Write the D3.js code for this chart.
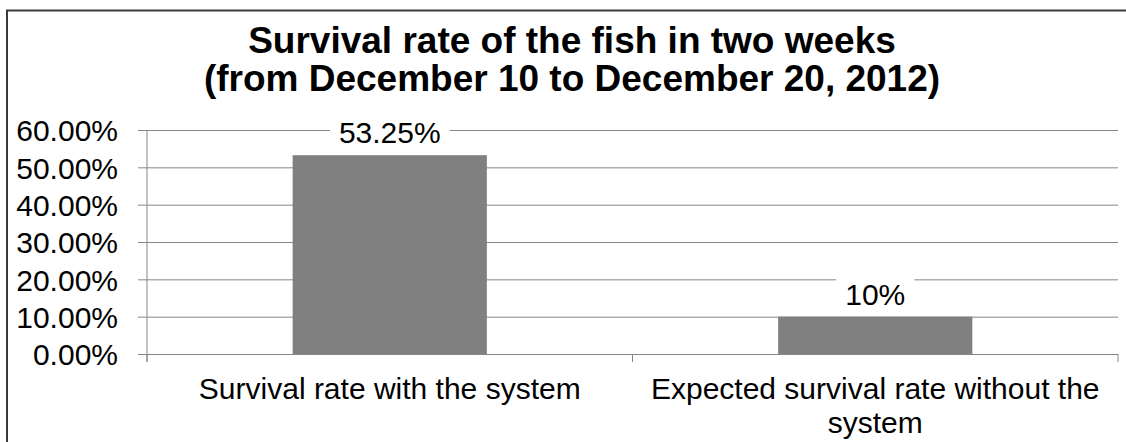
<!DOCTYPE html>
<html>
<head>
<meta charset="utf-8">
<script src="https://cdn.jsdelivr.net/npm/d3@7"></script>
<style>
  html, body { margin: 0; padding: 0; background: #fff; }
  svg { display: block; font-family: Arial, "Liberation Sans", sans-serif; }
</style>
</head>
<body>
<svg id="chart" width="1126" height="442"></svg>
<script>
// Survival rates (percent) per scenario
const categories = ["Survival rate with the system", "Expected survival rate without the system"];
const survival = [53.25, 10];
const yTicks = [0, 10, 20, 30, 40, 50, 60];
const titleLines = ["Survival rate of the fish in two weeks", "(from December 10 to December 20, 2012)"];

const W = 1126, H = 442;
const plot = { left: 147, right: 1118, top: 130, bottom: 354 };
const bodyFont = 30;
const svg = d3.select("#chart");

// outer chart frame (runs past the right and bottom edges)
svg.append("rect")
  .attr("x", 7).attr("y", 10.5)
  .attr("width", W + 20).attr("height", H + 20)
  .attr("fill", "#fff").attr("stroke", "#3a3a3a").attr("stroke-width", 2);

// title
const title = svg.append("text")
  .attr("text-anchor", "middle")
  .attr("font-weight", "bold")
  .attr("font-size", 37)
  .attr("fill", "#000");
titleLines.forEach((t, i) => {
  title.append("tspan").attr("x", 572).attr("y", 53 + i * 38).text(t);
});

const y = d3.scaleLinear().domain([0, 60]).range([plot.bottom, plot.top]);
const x = d3.scaleBand().domain(categories)
  .range([plot.left, plot.right])
  .paddingInner(0.6).paddingOuter(0.3);

// horizontal gridlines + y axis labels
const yAxis = d3.axisLeft(y).tickValues(yTicks)
  .tickSize(-(plot.right - plot.left))
  .tickPadding(0)
  .tickFormat(d => d3.format(".2f")(d) + "%");
const gy = svg.append("g").attr("transform", `translate(${plot.left},0)`).call(yAxis);
gy.select(".domain").remove();
gy.selectAll(".tick line")
  .attr("x1", -9)
  .attr("stroke", "#868686").attr("stroke-width", 1);
gy.selectAll(".tick text")
  .attr("x", -29)
  .attr("font-size", bodyFont).attr("font-family", "Arial, 'Liberation Sans', sans-serif")
  .attr("fill", "#000")
  .attr("dy", "0.36em");

// vertical axis line
svg.append("line")
  .attr("x1", plot.left).attr("x2", plot.left)
  .attr("y1", plot.top).attr("y2", plot.bottom + 8)
  .attr("stroke", "#868686").attr("stroke-width", 1);

// category boundary ticks
const step = x.step();
const bounds = d3.range(categories.length + 1).map(i => plot.left + i * step);
svg.selectAll("line.xtick").data(bounds).join("line")
  .attr("class", "xtick")
  .attr("x1", d => d).attr("x2", d => d)
  .attr("y1", plot.bottom).attr("y2", plot.bottom + 8)
  .attr("stroke", "#868686").attr("stroke-width", 1);

// bars
svg.selectAll("rect.bar").data(survival).join("rect")
  .attr("class", "bar")
  .attr("x", (d, i) => x(categories[i]))
  .attr("width", x.bandwidth())
  .attr("y", d => y(d))
  .attr("height", d => y(0) - y(d))
  .attr("fill", "#808080");

// value labels with white backing
const lbl = svg.selectAll("g.vlabel").data(survival).join("g")
  .attr("class", "vlabel")
  .attr("transform", (d, i) => `translate(${x(categories[i]) + x.bandwidth() / 2},${y(d) - 12})`);
lbl.append("text")
  .attr("text-anchor", "middle")
  .attr("font-size", bodyFont)
  .attr("fill", "#000")
  .text(d => d + "%");
lbl.each(function () {
  const g = d3.select(this);
  const bb = g.select("text").node().getBBox();
  g.insert("rect", "text")
    .attr("x", bb.x - 9).attr("y", bb.y - 2)
    .attr("width", bb.width + 18).attr("height", bb.height + 4)
    .attr("fill", "#fff");
});

// category labels, wrapped to the band width
const measure = svg.append("text").attr("font-size", bodyFont).attr("visibility", "hidden");
function wrap(str, maxW) {
  const words = str.split(" ");
  const lines = [];
  let cur = "";
  words.forEach(w => {
    const test = cur ? cur + " " + w : w;
    measure.text(test);
    if (measure.node().getComputedTextLength() > maxW && cur) {
      lines.push(cur);
      cur = w;
    } else {
      cur = test;
    }
  });
  if (cur) lines.push(cur);
  return lines;
}
categories.forEach((c, i) => {
  const cx = x(c) + x.bandwidth() / 2;
  const t = svg.append("text")
    .attr("text-anchor", "middle")
    .attr("font-size", bodyFont)
    .attr("fill", "#000");
  wrap(c, step - 10).forEach((line, j) => {
    t.append("tspan").attr("x", cx).attr("y", 399 + j * 34).text(line);
  });
});
measure.remove();
</script>
</body>
</html>
